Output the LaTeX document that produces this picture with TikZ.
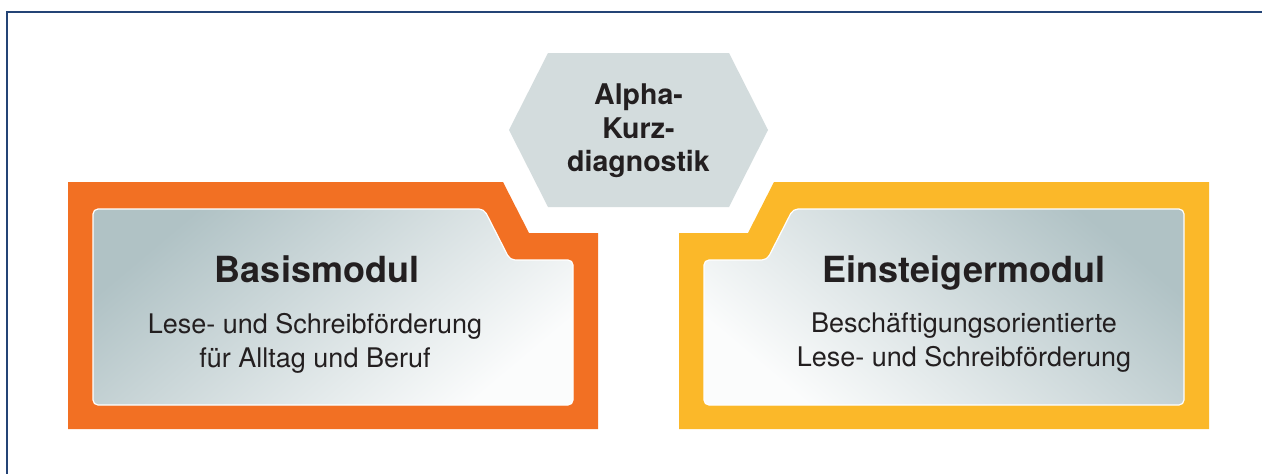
\documentclass[tikz,border=0pt]{standalone}
\usepackage{fontspec}
\setmainfont{TeX Gyre Heros}
\definecolor{rahmen}{RGB}{36,68,118}
\definecolor{orangeb}{RGB}{242,112,35}
\definecolor{gelbb}{RGB}{251,184,41}
\definecolor{hexgrau}{RGB}{211,220,221}
\definecolor{panelgrau}{RGB}{176,194,197}
\definecolor{panelmitte}{RGB}{216,224,225}
\definecolor{schrift}{RGB}{35,31,32}
\tikzset{
  titel/.style={text=schrift,font=\fontsize{36}{40}\selectfont\bfseries},
  untertitel/.style={text=schrift,align=center,font=\fontsize{27}{34}\selectfont},
  hextext/.style={text=schrift,align=center,font=\fontsize{28.5}{33.5}\selectfont\bfseries},
  panel/.style={draw=white,line width=1.2pt,rounded corners=5pt,top color=panelgrau,
    middle color=panelmitte,bottom color=white!95!panelgrau}
}
\begin{document}
\begin{tikzpicture}[x=1pt,y=-1pt]
      \useasboundingbox (0,0) rectangle (1262,474);
      \fill[white] (0,0) rectangle (1262,474);
      \draw[rahmen,line width=2pt] (1262,12)--(7,12)--(7,474);
      % Mitte
      \fill[hexgrau] (509,130) coordinate (H1)--(548,53)--(729,53)
        --(768,130) coordinate (H2)--(729,207)--(548,207)--cycle;
      \node[hextext] (diag) at (638.5,131) {Alpha-\\Kurz-\\diagnostik};
      % links
      \fill[orangeb] (68,182)--(503,182)--(529,233)--(598,233)--(598,429)--(68,429)--cycle;
      \path[panel,shading angle=40] (93,209)--(484,209)--(510,260)--(573,260)
        --(573,405)--(93,405)--cycle;
      \node[titel,anchor=base] (basis) at (317,282) {Basismodul};
      \node[untertitel] (basistext) at (315,343)
        {Lese- und Schreibförderung\\für Alltag und Beruf};
      % rechts
      \fill[gelbb] (1209,182)--(774,182)--(748,233)--(679,233)--(679,429)--(1209,429)--cycle;
      \path[panel,shading angle=-40] (1184,209)--(793,209)--(767,260)--(704,260)
        --(704,405)--(1184,405)--cycle;
      \node[titel,anchor=base] (einst) at (964,282) {Einsteigermodul};
      \node[untertitel] (einsttext) at (964,343)
        {Beschäftigungsorientierte\\Lese- und Schreibförderung};
    \end{tikzpicture}
\end{document}
